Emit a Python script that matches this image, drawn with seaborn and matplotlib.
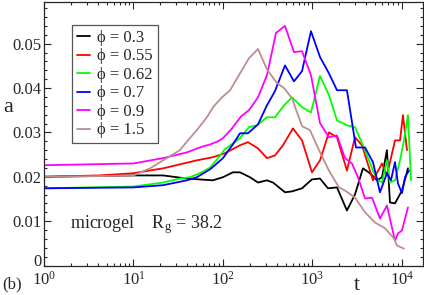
import numpy as np
import pandas as pd
import seaborn as sns
import matplotlib
matplotlib.use("Agg")
import matplotlib.pyplot as plt
from matplotlib.ticker import MultipleLocator, FuncFormatter

# values
phi_labels = ["0.3", "0.55", "0.62", "0.7", "0.9", "1.5"]
line_colors = ["#000000", "#ff0000", "#00ff00", "#0000ff", "#ff00ff", "#bc8f8f"]

t_03 = [1, 10, 21.4, 39.6, 55, 77, 100, 129, 155, 200, 246, 310, 362, 493, 590, 764,
        986, 1213, 1489, 1879, 2427, 2985, 3664, 4385, 5260, 5984, 6792, 7345, 8356,
        10000, 11668]
a_03 = [0.0200, 0.0203, 0.0203, 0.0196, 0.0194, 0.0192, 0.0199, 0.0210, 0.0210, 0.0199,
        0.0187, 0.0192, 0.0187, 0.0165, 0.0167, 0.0174, 0.0194, 0.0196, 0.0174, 0.0176,
        0.0124, 0.0160, 0.0219, 0.0208, 0.0192, 0.0199, 0.0260, 0.0142, 0.0140, 0.0169,
        0.0219]

t_055 = [1, 4.2, 10, 21.4, 51, 77, 105, 155, 190, 246, 310, 381, 468, 605, 764, 986,
         1213, 1528, 1879, 2427, 2985, 3573, 4742, 5984, 6792, 8356, 9506, 10257, 11376]
a_055 = [0.0200, 0.0203, 0.0208, 0.0219, 0.0237, 0.0244, 0.0253, 0.0271, 0.0278, 0.0264,
         0.0242, 0.0248, 0.0271, 0.0309, 0.0282, 0.0210, 0.0237, 0.0300, 0.0289, 0.0214,
         0.0289, 0.0271, 0.0192, 0.0230, 0.0203, 0.0282, 0.0282, 0.0339, 0.0260]

t_062 = [1, 10, 21.4, 33, 42.8, 58, 72, 88, 105, 129, 155, 195, 240, 310, 381, 481, 590,
         764, 962, 1213, 1528, 1879, 2427, 2985, 3758, 4742, 5395, 5984, 6792, 7345, 8356,
         9506, 10520, 11668, 12618]
a_062 = [0.0174, 0.0178, 0.0187, 0.0196, 0.0199, 0.0210, 0.0221, 0.0242, 0.0262, 0.0275,
         0.0287, 0.0312, 0.0316, 0.0334, 0.0334, 0.0361, 0.0379, 0.0357, 0.0345, 0.0427,
         0.0384, 0.0327, 0.0316, 0.0312, 0.0266, 0.0214, 0.0192, 0.0187, 0.0237, 0.0187,
         0.0192, 0.0237, 0.0282, 0.0339, 0.0192]

t_07 = [1, 10, 21.4, 39.6, 51, 72, 100, 129, 155, 190, 246, 310, 381, 493, 621, 764, 962,
        1213, 1528, 1879, 2427, 3062, 3864, 4742, 5675, 6792, 7534, 8356, 9016, 10000,
        10814, 11967]
a_07 = [0.0174, 0.0176, 0.0181, 0.0192, 0.0199, 0.0217, 0.0242, 0.0273, 0.0298, 0.0298,
        0.0318, 0.0361, 0.0393, 0.0451, 0.0415, 0.0438, 0.0528, 0.0470, 0.0433, 0.0395,
        0.0395, 0.0266, 0.0266, 0.0233, 0.0165, 0.0208, 0.0192, 0.0233, 0.0185, 0.0163,
        0.0199, 0.0214]

t_09 = [1, 10, 21.4, 39.6, 55, 72, 88, 100, 126, 159, 195, 246, 310, 391, 493, 621, 764,
        962, 1213, 1528, 1879, 2307, 2761, 3221, 3864, 4624, 5675, 6792, 8356, 9016, 10000,
        11668]
a_09 = [0.0226, 0.0230, 0.0242, 0.0255, 0.0266, 0.0273, 0.0280, 0.0287, 0.0309, 0.0336,
        0.0350, 0.0379, 0.0429, 0.0524, 0.0540, 0.0481, 0.0483, 0.0429, 0.0321, 0.0289,
        0.0293, 0.0242, 0.0230, 0.0199, 0.0151, 0.0153, 0.0106, 0.0135, 0.0056, 0.0072,
        0.0079, 0.0131]

t_15 = [1, 3.1, 10, 15.3, 21.4, 33, 40.6, 51, 66, 79, 97.5, 120, 155, 195, 246, 310, 401,
        481, 590, 764, 938, 1183, 1528, 1977, 2307, 2985, 3864, 4989, 6457, 8147, 8790,
        10520]
a_15 = [0.0200, 0.0201, 0.0203, 0.0219, 0.0237, 0.0260, 0.0282, 0.0305, 0.0334, 0.0359,
        0.0379, 0.0395, 0.0433, 0.0467, 0.0488, 0.0442, 0.0411, 0.0400, 0.0377, 0.0314,
        0.0305, 0.0260, 0.0214, 0.0176, 0.0169, 0.0153, 0.0120, 0.0097, 0.0084, 0.0061,
        0.0045, 0.0038]

series_t = [t_03, t_055, t_062, t_07, t_09, t_15]
series_a = [a_03, a_055, a_062, a_07, a_09, a_15]

frames = []
for lab, t, a in zip(phi_labels, series_t, series_a):
    frames.append(pd.DataFrame({"t": t, "a": a, "phi": "\u03d5 = " + lab}))
df = pd.concat(frames, ignore_index=True)

sns.set_style("ticks")
plt.rcParams["font.family"] = ["Liberation Serif", "DejaVu Serif"]
plt.rcParams["mathtext.fontset"] = "custom"
plt.rcParams["mathtext.rm"] = "Liberation Serif"
plt.rcParams["mathtext.it"] = "Liberation Serif:italic"
plt.rcParams["xtick.direction"] = "in"
plt.rcParams["ytick.direction"] = "in"
plt.rcParams["xtick.top"] = True
plt.rcParams["ytick.right"] = True

fig = plt.figure(figsize=(4.24, 2.95), dpi=100)
ax = fig.add_axes([44 / 424, 29.5 / 295, 379.5 / 424, 264 / 295])

sns.lineplot(data=df, x="t", y="a", hue="phi",
             palette=dict(zip(["\u03d5 = " + l for l in phi_labels], line_colors)),
             estimator=None, sort=False, linewidth=1.3, ax=ax)

ax.set_xscale("log")
ax.set_xlim(1, 17400)
ax.set_ylim(0, 0.0595)
ax.yaxis.set_major_locator(MultipleLocator(0.01))
ax.yaxis.set_minor_locator(MultipleLocator(0.002))
# the "0" label is drawn by hand just below, a bit higher so it clears 10^0
ax.yaxis.set_major_formatter(FuncFormatter(lambda v, p: "" if abs(v) < 1e-9 else "%.2f" % v))
ax.annotate("0", xy=(0, 0), xycoords="axes fraction", xytext=(-1.5, 2.5),
            textcoords="offset points", ha="right", va="center", fontsize=12)

ax.tick_params(which="major", length=5, width=0.8, labelsize=12, pad=2)
ax.tick_params(axis="x", which="major", pad=4)
ax.tick_params(which="minor", length=2.5, width=0.8)
for s in ax.spines.values():
    s.set_linewidth(0.9)

ax.set_xlabel("")
ax.set_ylabel("")
fig.text(8 / 424, (295 - 108) / 295, "a", fontsize=16, ha="center", va="center")
fig.text(357 / 424, 5 / 295, "t", fontsize=16, ha="center", va="baseline")
fig.text(2 / 424, 7 / 295, "(b)", fontsize=12, ha="left", va="baseline")
ax.text(0.0685, 0.142, "microgel    R$_\\mathrm{g}$ = 38.2", transform=ax.transAxes,
        fontsize=13, ha="left", va="baseline")

handles, labels = ax.get_legend_handles_labels()
leg = ax.legend(handles, labels, loc="upper left", bbox_to_anchor=(0.0738, 0.911),
                borderaxespad=0, fontsize=12, handlelength=0.8, handletextpad=0.4,
                labelspacing=0.15, borderpad=0.3, fancybox=False, framealpha=1,
                edgecolor="#555555")
leg.get_frame().set_linewidth(0.9)

fig.savefig("out.png", dpi=100)
